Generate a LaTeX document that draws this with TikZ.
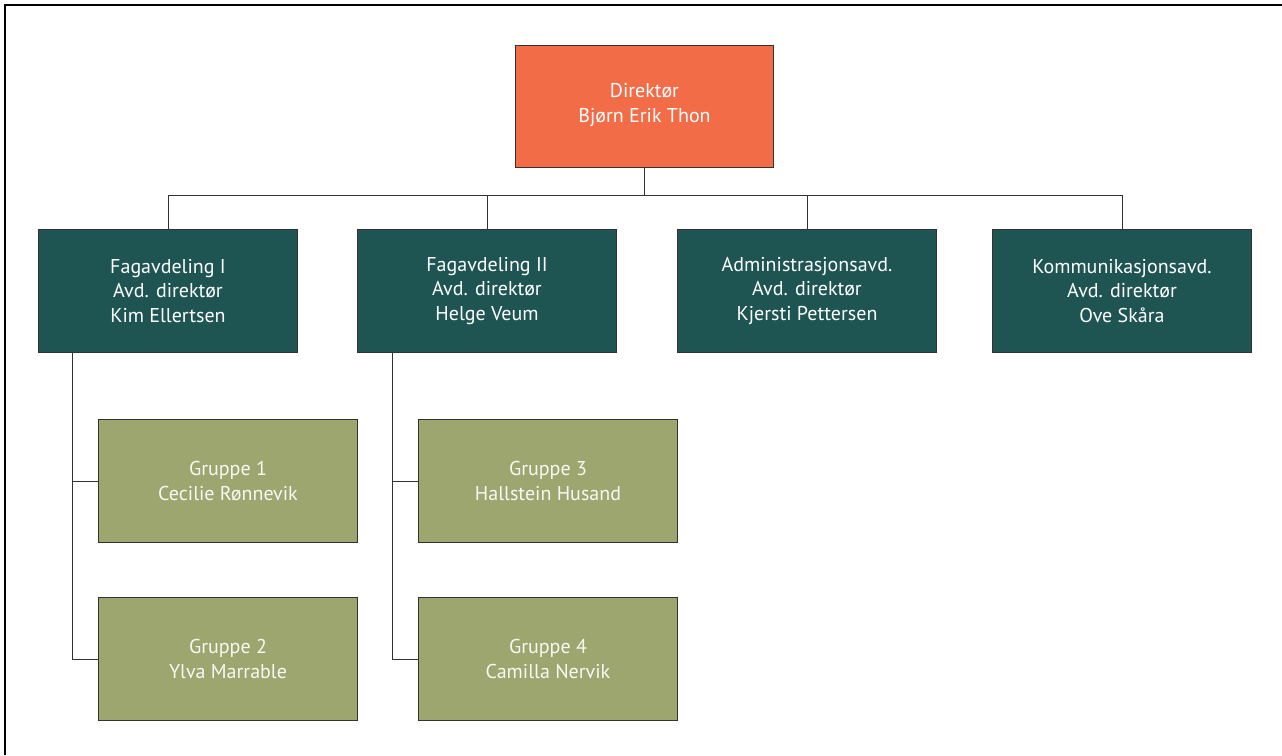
\documentclass[tikz,border=0pt]{standalone}
\usepackage{fontspec}
\setmainfont{PT Sans}
\begin{document}
\begin{tikzpicture}[x=1pt,y=-1pt,
  box/.style={draw=black!80,line width=1pt,minimum width=259pt,minimum height=123pt,anchor=north west,inner sep=0pt,text=white,font=\fontsize{20}{24.5}\selectfont,align=center},
  dir/.style={box,minimum width=258pt,minimum height=122pt,fill=orangebox},
  avd/.style={box,fill=tealbox},
  grp/.style={box,fill=olivebox,text=white!92!olivebox},
  conn/.style={draw=black!80,line width=0.9pt}]
\definecolor{orangebox}{HTML}{F26C47}
\definecolor{tealbox}{HTML}{1E5553}
\definecolor{olivebox}{HTML}{9EA66F}
\useasboundingbox (0,0) rectangle (1282,755);
\draw[line width=2.2pt] (5,755) -- (5,5) -- (1282,5);
\node[dir] (d) at (515,45) {Direktør\\Bjørn Erik Thon\vphantom{\strut}};
\node[avd] (a1) at (38,229) {Fagavdeling I\\Avd. direktør\\Kim Ellertsen};
\node[avd] (a2) at (357,229) {Fagavdeling II\\Avd. direktør\\Helge Veum};
\node[avd] (a3) at (677,229) {Administrasjonsavd.\\Avd. direktør\\Kjersti Pettersen};
\node[avd] (a4) at (992,229) {Kommunikasjonsavd.\\Avd. direktør\\Ove Skåra};
\node[grp] (g1) at (98,419) {Gruppe 1\\Cecilie Rønnevik};
\node[grp] (g2) at (98,597) {Gruppe 2\\Ylva Marrable};
\node[grp] (g3) at (418,419) {Gruppe 3\\Hallstein Husand};
\node[grp] (g4) at (418,597) {Gruppe 4\\Camilla Nervik};
\coordinate (bus) at (0,195);
\draw[conn] (d.south) -- (d.south |- bus);
\draw[conn] (a1.north |- bus) -- (a4.north |- bus);
\foreach \n in {a1,a2,a3,a4} \draw[conn] (\n.north) -- (\n.north |- bus);
\coordinate (s1) at (72,0);
\coordinate (s2) at (392,0);
\draw[conn] (s1 |- a1.south) -- (s1 |- g2.west) -- (g2.west);
\draw[conn] (s1 |- g1.west) -- (g1.west);
\draw[conn] (s2 |- a2.south) -- (s2 |- g4.west) -- (g4.west);
\draw[conn] (s2 |- g3.west) -- (g3.west);
\end{tikzpicture}
\end{document}
